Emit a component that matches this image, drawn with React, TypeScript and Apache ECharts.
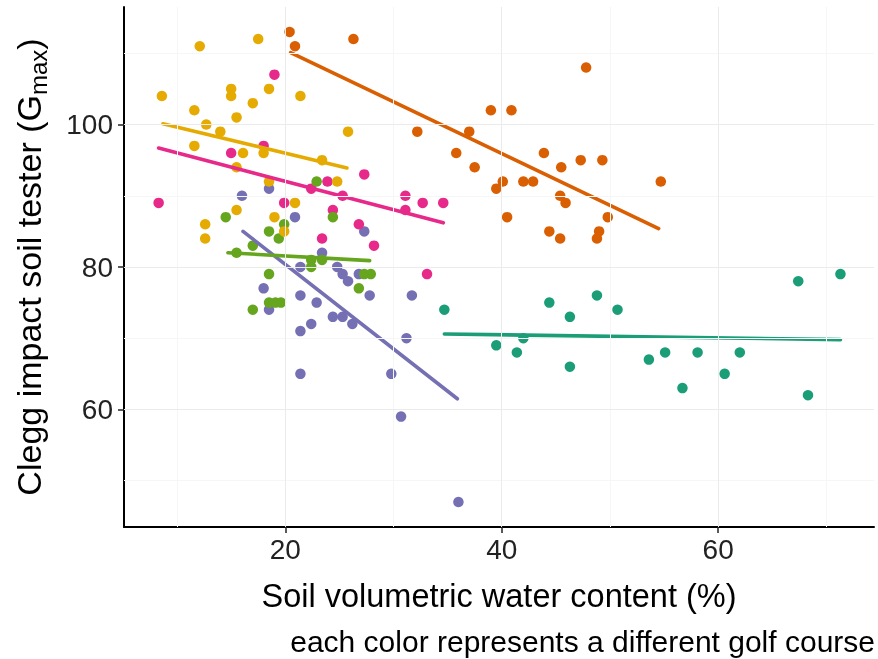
import React, { useEffect, useRef } from 'react';
import * as echarts from 'echarts';

// Tick values
const xTickValues = [20, 40, 60];
const yTickValues = [60, 80, 100];
const xMinorGrid = [10, 30, 50, 70];
const yMinorGrid = [50, 70, 90, 110];

const courseNames = ['Course A', 'Course B', 'Course C', 'Course D', 'Course E', 'Course F'];
const courseColors = ['#1B9E77', '#D95F02', '#7570B3', '#E7298A', '#66A61E', '#E6AB02'];

// [soil volumetric water content %, Clegg Gmax]
const courseA = [
  [34.7, 74], [39.5, 69], [41.4, 68], [42.0, 70], [44.4, 75], [46.3, 73], [46.3, 66], [48.8, 76], [50.7, 74],
  [53.6, 67], [55.1, 68], [56.7, 63], [58.1, 68], [60.6, 65], [62.0, 68], [67.4, 78], [68.3, 62], [71.3, 79],
];
const courseB = [
  [20.4, 113], [20.9, 111], [26.3, 112], [32.2, 99], [37.0, 99], [39.0, 102], [40.9, 102], [47.8, 108], [35.8, 96],
  [37.5, 94], [43.9, 96], [45.5, 94], [47.3, 95], [49.3, 95], [54.7, 92], [40.1, 92], [39.5, 91], [42.0, 92],
  [42.9, 92], [45.4, 90], [45.9, 89], [40.5, 87], [49.8, 87], [44.4, 85], [45.4, 84], [49.0, 85], [48.8, 84],
];
const courseC = [
  [16.0, 90], [18.5, 91], [20.9, 87], [27.3, 85], [23.4, 82], [21.4, 80], [24.8, 80], [25.3, 79], [25.8, 78],
  [26.8, 79], [27.8, 76], [18.0, 77], [21.4, 76], [22.9, 75], [18.5, 74], [24.4, 73], [25.3, 73], [26.2, 72],
  [22.4, 72], [21.4, 71], [31.7, 76], [31.2, 70], [21.4, 65], [29.8, 65], [30.7, 59], [36.0, 47],
];
const courseD = [
  [19.0, 107], [18.0, 97], [15.0, 96], [27.3, 93], [23.9, 92], [22.4, 91], [25.3, 90], [8.3, 89], [19.9, 89],
  [24.4, 88], [26.8, 86], [28.2, 83], [23.4, 84], [31.1, 90], [32.7, 89], [34.6, 89], [31.1, 88], [33.1, 79],
];
const courseE = [
  [22.9, 92], [14.5, 87], [19.9, 86], [18.5, 85], [19.4, 84], [24.4, 87], [17.0, 83], [15.5, 82], [22.4, 81],
  [22.4, 80], [23.4, 81], [27.3, 79], [27.9, 79], [26.8, 77], [18.5, 79], [18.5, 75], [19.1, 75], [19.6, 75], [17.0, 74],
];
const courseF = [
  [12.1, 111], [17.5, 112], [8.6, 104], [15.0, 105], [15.0, 104], [18.5, 105], [17.0, 103], [11.6, 102], [15.5, 101],
  [12.7, 100], [14.0, 99], [11.6, 97], [16.1, 96], [18.0, 96], [15.5, 94], [21.4, 104], [25.8, 99], [23.4, 95],
  [24.8, 92], [18.5, 92], [20.9, 89], [15.5, 88], [12.6, 86], [12.6, 84], [19.0, 87], [19.9, 85],
];

// Linear fit endpoints per course
const fitA = [[34.7, 70.6], [71.3, 69.8]];
const fitB = [[20.5, 110.1], [54.5, 85.4]];
const fitC = [[16.1, 85.0], [35.9, 61.5]];
const fitD = [[8.3, 96.7], [34.6, 86.2]];
const fitE = [[14.7, 82.0], [27.8, 80.9]];
const fitF = [[8.7, 100.1], [25.7, 93.9]];

const courseData = [courseA, courseB, courseC, courseD, courseE, courseF];
const courseFits = [fitA, fitB, fitC, fitD, fitE, fitF];

const xRange = [5.1, 74.4];
const yRange = [43.5, 116.5];

const FONT = '"Liberation Sans", Arial, Helvetica, sans-serif';

export default function App() {
  const ref = useRef<HTMLDivElement>(null);
  useEffect(() => {
    if (!ref.current) return;
    const chart = echarts.init(ref.current, null, { renderer: 'svg' });

    const gridLine = (axis: 'xAxis' | 'yAxis', v: number, color: string) => ({
      [axis]: v,
      lineStyle: { color, width: 1, type: 'solid' },
    });

    const series: any[] = [
      {
        type: 'line',
        name: 'grid',
        data: [],
        silent: true,
        z: 0,
        markLine: {
          silent: true,
          symbol: ['none', 'none'],
          label: { show: false },
          animation: false,
          data: [
            ...xMinorGrid.map((v) => gridLine('xAxis', v, '#f6f6f6')),
            ...yMinorGrid.map((v) => gridLine('yAxis', v, '#f6f6f6')),
            ...xTickValues.map((v) => gridLine('xAxis', v, '#ebebeb')),
            ...yTickValues.map((v) => gridLine('yAxis', v, '#ebebeb')),
          ],
        },
      },
    ];

    courseData.forEach((d, i) => {
      series.push({
        type: 'scatter',
        name: courseNames[i],
        data: d,
        symbol: 'circle',
        symbolSize: 10.5,
        itemStyle: { color: courseColors[i], opacity: 1 },
        z: 2,
      });
    });
    courseFits.forEach((f, i) => {
      series.push({
        type: 'line',
        name: courseNames[i] + ' fit',
        data: f,
        showSymbol: false,
        symbol: 'none',
        lineStyle: { color: courseColors[i], width: 3.6, cap: 'round' },
        z: 3,
      });
    });

    chart.setOption({
      animation: false,
      grid: { left: 124, right: 4, top: 7, bottom: 132, containLabel: false },
      xAxis: {
        type: 'value',
        min: xRange[0],
        max: xRange[1],
        name: 'Soil volumetric water content (%)',
        nameLocation: 'middle',
        nameGap: 52,
        nameTextStyle: { fontFamily: FONT, fontSize: 32.5, color: '#000' },
        axisLine: { show: true, onZero: false, lineStyle: { color: '#000', width: 2 } },
        axisTick: { show: true, length: 6, customValues: xTickValues, lineStyle: { color: '#222', width: 1.5 } },
        axisLabel: { customValues: xTickValues, margin: 8, fontFamily: FONT, fontSize: 28, color: '#222' },
        splitLine: { show: false },
      },
      yAxis: {
        type: 'value',
        min: yRange[0],
        max: yRange[1],
        name: 'Clegg impact soil tester (G{sub|max})',
        nameLocation: 'middle',
        nameGap: 74,
        nameRotate: 90,
        nameTextStyle: {
          fontFamily: FONT,
          fontSize: 34,
          color: '#000',
          lineHeight: 42,
          rich: {
            sub: { fontFamily: FONT, fontSize: 24, color: '#000', verticalAlign: 'bottom', lineHeight: 24 },
          },
        },
        axisLine: { show: true, onZero: false, lineStyle: { color: '#000', width: 2 } },
        axisTick: { show: true, length: 6, customValues: yTickValues, lineStyle: { color: '#222', width: 1.5 } },
        axisLabel: { customValues: yTickValues, margin: 11, fontFamily: FONT, fontSize: 28, color: '#222' },
        splitLine: { show: false },
      },
      graphic: [
        {
          type: 'text',
          right: 3,
          top: 626,
          style: {
            text: 'each color represents a different golf course',
            fontFamily: FONT,
            fontSize: 30,
            fill: '#000',
          },
        },
      ],
      series,
    });

    return () => chart.dispose();
  }, []);

  return <div ref={ref} style={{ position: 'fixed', left: 0, top: 0, width: 878, height: 659 }} />;
}
